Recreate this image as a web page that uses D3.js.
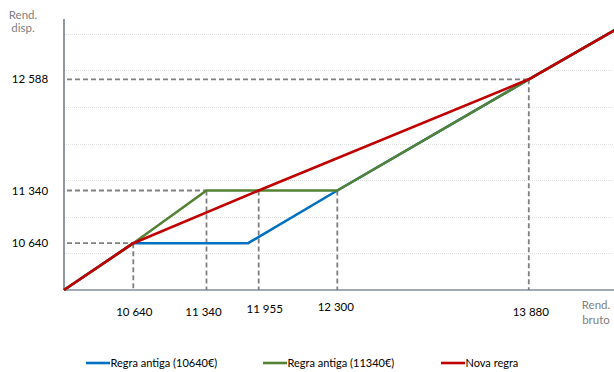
<!DOCTYPE html>
<html>
<head>
<meta charset="utf-8">
<script src="https://cdn.jsdelivr.net/npm/d3@7"></script>
<style>
  html, body { margin: 0; padding: 0; background: #fff; }
  svg { display: block; font-family: Lato, "Liberation Sans", sans-serif; }
</style>
</head>
<body>
<svg id="chart" width="614" height="372"></svg>
<script>
// Gross income (x) and disposable income (y), in euros
const seriesNames = ["Regra antiga (10640€)", "Regra antiga (11340€)", "Nova regra"];
const seriesColors = ["#0070C0", "#548235", "#C00000"];

const oldRule10640Gross = [10000, 10640, 11830, 12300, 13880, 14600];
const oldRule10640Net   = [10000, 10640, 10640, 11340, 12588, 13150];

const oldRule11340Gross = [10000, 10640, 11340, 12300, 13880, 14600];
const oldRule11340Net   = [10000, 10640, 11340, 11340, 12588, 13150];

const newRuleGross = [10000, 10640, 11955, 13880, 14600];
const newRuleNet   = [10000, 10640, 11340, 12588, 13150];

// Reference points marked with dashed guides and labelled on the axes
const xTickValues = [10640, 11340, 11955, 12300, 13880];
const xTickLevels = [10640, 11340, 11340, 11340, 12588]; // disposable income reached at each gross mark
const yTickValues = [10640, 11340, 12588];
const yTickReach  = [10640, 11340, 13880];               // gross income where each level is reached

const fmt = v => String(v).replace(/\B(?=(\d{3})+(?!\d))/g, " ");

// ---- layout -----------------------------------------------------------
const svg = d3.select("#chart");
const plot = { left: 64, right: 614, top: 19, bottom: 290 };

// The diagram is schematic: each axis is stretched piecewise between the marked values
const x = d3.scaleLinear()
  .domain([10000, 10640, 11340, 11955, 12300, 13880])
  .range([plot.left, 133.3, 206.5, 258.7, 337.3, 528.8]);
const y = d3.scaleLinear()
  .domain([10000, 10640, 11340, 12588])
  .range([plot.bottom, 243.2, 190.5, 79.3]);

// Horizontal gridlines follow evenly spaced major units of the vertical axis
const grid = d3.scaleLinear().domain([0, 7.4]).range([plot.bottom, plot.top]);
svg.append("g")
  .selectAll("line")
  .data(d3.range(1, 8))
  .join("line")
  .attr("x1", plot.left).attr("x2", plot.right)
  .attr("y1", d => Math.round(grid(d)) + 0.5).attr("y2", d => Math.round(grid(d)) + 0.5)
  .attr("stroke", "#e2e2e2")
  .attr("stroke-width", 1)
  .attr("stroke-dasharray", "1,1");

// Axis lines
const axisColor = "#44546A";
svg.append("line")
  .attr("x1", plot.left).attr("x2", plot.left)
  .attr("y1", plot.top).attr("y2", plot.bottom)
  .attr("stroke", axisColor).attr("stroke-width", 1.2);
svg.append("line")
  .attr("x1", plot.left).attr("x2", plot.right)
  .attr("y1", plot.bottom).attr("y2", plot.bottom)
  .attr("stroke", axisColor).attr("stroke-width", 1.2);

// Dashed guides
const guides = svg.append("g")
  .attr("stroke", "#808080")
  .attr("stroke-width", 1.8)
  .attr("stroke-dasharray", "5,3");
guides.selectAll("line.v")
  .data(xTickValues)
  .join("line").attr("class", "v")
  .attr("x1", d => x(d)).attr("x2", d => x(d))
  .attr("y1", (d, i) => y(xTickLevels[i])).attr("y2", plot.bottom);
guides.selectAll("line.h")
  .data(yTickValues)
  .join("line").attr("class", "h")
  .attr("x1", plot.left + 3).attr("x2", (d, i) => x(yTickReach[i]))
  .attr("y1", d => y(d)).attr("y2", d => y(d));

// Series
const series = [
  { name: seriesNames[0], color: seriesColors[0], gross: oldRule10640Gross, net: oldRule10640Net },
  { name: seriesNames[1], color: seriesColors[1], gross: oldRule11340Gross, net: oldRule11340Net },
  { name: seriesNames[2], color: seriesColors[2], gross: newRuleGross, net: newRuleNet }
];
const line = d3.line().x(d => x(d[0])).y(d => y(d[1]));
svg.append("g")
  .selectAll("path")
  .data(series)
  .join("path")
  .attr("d", s => line(d3.zip(s.gross, s.net)))
  .attr("fill", "none")
  .attr("stroke", s => s.color)
  .attr("stroke-width", 2.6)
  .attr("stroke-linejoin", "round");

// Axis value labels
const labelNudgeY = { 11955: -2.5, 12300: -5 };
const labelNudgeX = { 10640: 1, 11340: -3, 11955: 6, 12300: -1.5, 13880: 2 };
svg.append("g")
  .selectAll("text")
  .data(xTickValues)
  .join("text")
  .attr("x", d => x(d) + (labelNudgeX[d] || 0))
  .attr("y", d => 315.5 + (labelNudgeY[d] || 0))
  .attr("text-anchor", "middle")
  .attr("font-size", 11.5)
  .attr("fill", "#000")
  .text(fmt);

svg.append("g")
  .selectAll("text")
  .data(yTickValues)
  .join("text")
  .attr("x", 30)
  .attr("y", d => y(d) + 4)
  .attr("text-anchor", "middle")
  .attr("font-size", 11.5)
  .attr("fill", "#000")
  .text(fmt);

// Axis titles
const titleColor = "#808080";
const yTitle = svg.append("text")
  .attr("text-anchor", "middle").attr("font-size", 11.5).attr("fill", titleColor);
yTitle.append("tspan").attr("x", 23).attr("y", 19).text("Rend.");
yTitle.append("tspan").attr("x", 23).attr("y", 31.5).text("disp.");

const xTitle = svg.append("text")
  .attr("text-anchor", "middle").attr("font-size", 11.5).attr("fill", titleColor);
xTitle.append("tspan").attr("x", 596).attr("y", 309).text("Rend.");
xTitle.append("tspan").attr("x", 596).attr("y", 324).text("bruto");

// Legend
const legendX = [86, 263, 441];
const legend = svg.append("g")
  .selectAll("g")
  .data(series)
  .join("g")
  .attr("transform", (d, i) => `translate(${legendX[i]},363)`);
legend.append("line")
  .attr("x1", 0).attr("x2", 24)
  .attr("stroke", d => d.color)
  .attr("stroke-width", 2.6);
legend.append("text")
  .attr("x", 24.5).attr("y", 4)
  .attr("font-size", 11)
  .attr("fill", "#000")
  .text(d => d.name);
</script>
</body>
</html>
